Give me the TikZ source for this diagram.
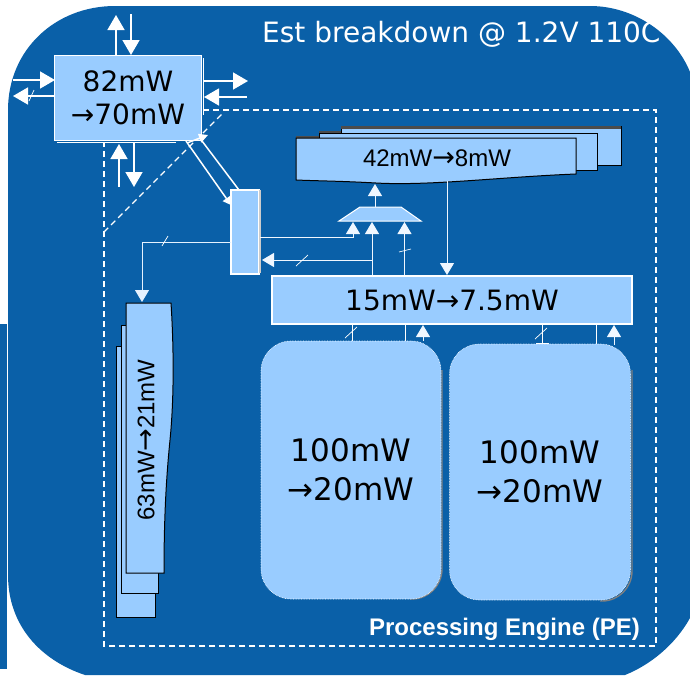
\documentclass[tikz,border=0pt]{standalone}
\usepackage{fontspec}
\setmainfont{DejaVu Sans}
\newfontfamily\lib{Liberation Sans}
\newfontfamily\dv{DejaVu Sans}
\newcommand{\wa}{{\dv\fontsize{27}{27}\selectfont →}}
\usetikzlibrary{arrows.meta}
\definecolor{bg}{HTML}{0A60A8}
\definecolor{fillb}{HTML}{99CCFF}
\tikzset{
 box/.style={fill=fillb,draw=white,line width=1.2pt,inner sep=0pt,align=center,text=black},
 wire/.style={draw=white,line width=1pt},
 bigw/.style={draw=white,line width=1.5pt,-{Triangle[length=15pt,width=17pt]}},
 smallw/.style={draw=white!85!fillb,line width=1pt,-{Triangle[length=12pt,width=14pt]}},
 tick/.style={draw=white,line width=.7pt},
 dashln/.style={draw=white,line width=1.2pt,dash pattern=on 6pt off 4pt},
 mem/.style={fill=fillb,draw=black,line width=1pt},
 blob/.style={fill=fillb,draw=white,densely dotted,line width=.6pt,rounded corners=30pt,inner sep=0pt,align=center,text=black,font=\fontsize{31}{39}\selectfont},
}
\begin{document}
\begin{tikzpicture}[x=1pt,y=-1pt]
\useasboundingbox (0,0) rectangle (690,675);
\fill[bg] (0,324) rectangle (7,669);
\fill[bg] (8,110) .. controls (8,50) and (55,6) .. (115,6) -- (590,6) .. controls (635,6) and (675,35) .. (690,72) -- (690,618)
  .. controls (675,645) and (650,665) .. (625,675) -- (85,675) .. controls (40,660) and (8,625) .. (8,575) -- cycle;
% dashed PE
\draw[dashln] (203,110) -- (656,110) -- (656,646) -- (104,646) -- (104,143);
\draw[dashln] (104,232) -- (224,112);
% memories top
\draw[mem] (341,126) rectangle (621,165);
\fill[black!70] (341,126) rectangle (621,129);
\draw[mem] (319,133) rectangle (597,170);
\fill[black!70] (319,130.5) rectangle (341,133);
\fill[black!70] (296,135.5) rectangle (319,138);
\draw[mem] (296,138) -- (576,138) -- (576,174) .. controls (500,177) and (430,186) .. (376,183) .. controls (340,181) and (320,181) .. (296,180) -- cycle;
\node[inner sep=0pt] (tm) at (437,158) {\fontsize{24}{26}\selectfont\lib 42mW\wa 8mW};
% left memories
\draw[mem] (116,346) rectangle (155,617);
\draw[mem] (121,325) rectangle (158,593);
\draw[mem] (126,303) -- (171,303) .. controls (174,350) and (174,400) .. (170,440) .. controls (166,480) and (164,520) .. (164,573) -- (126,573) -- cycle;
\node[rotate=90,inner sep=0pt] (lm) at (146,440) {\fontsize{24}{26}\selectfont\lib 63mW\wa 21mW};
% main boxes
\node[box,minimum width=147pt,minimum height=85pt,font=\fontsize{28}{33}\selectfont] (ctl) at (128,98) {82mW\\→70mW};
\draw[white,line width=1pt] (203,58) -- (203,115);
\draw[white,line width=1pt] (57,142) -- (176,142);
\node[box,minimum width=28pt,minimum height=84pt] (sw) at (245,232) {};
\draw[gray!40,line width=1.4pt] (260,190) -- (260,273);
\node[box,minimum width=360pt,minimum height=48pt,font=\fontsize{28}{30}\selectfont] (l2) at (452,300) {15mW→7.5mW};
\draw[gray,line width=1.4pt,rounded corners=30pt] (442,370) -- (442,599) -- (410,599);
\draw[gray,line width=1.4pt,rounded corners=30pt] (632,370) -- (632,601) -- (600,601);
\node[blob,minimum width=180pt,minimum height=258pt] (pe1) at (351,470) {};
\node[font=\fontsize{31}{39}\selectfont,align=center,inner sep=0pt] (pe1t) at (351,470) {100mW\\→20mW};
\node[blob,minimum width=181pt,minimum height=256pt] (pe2) at (540,472) {};
\node[font=\fontsize{31}{39}\selectfont,align=center,inner sep=0pt] (pe2t) at (540,472) {100mW\\→20mW};
% mux
\draw[fill=fillb,draw=white,line width=1pt] (339,221) -- (360,207) -- (401,207) -- (421,221) -- cycle;
% ctl arrows
\draw[bigw] (116,55) -- (116,15);
\draw[bigw] (131,14) -- (131,55);
\draw[bigw] (13,80) -- (55,80);
\draw[bigw] (55,96) -- (13,96);
\draw[bigw] (203,81) -- (248,81);
\draw[bigw] (247,97) -- (204,97);
\draw[bigw] (119,187) -- (119,144);
\draw[bigw] (134,143) -- (134,187);
\draw[tick] (29,101) -- (34,90);
\draw[white,line width=1.5pt] (202,141) -- (239,190);
\draw[white,line width=1.5pt,-{Triangle[length=8pt,width=9pt]}] (186,141) -- (231,205);
\draw[white,line width=1.5pt,-{Triangle[length=9pt,width=9pt]}] (187,143) -- (208,135);
% sw-left
\draw[smallw,draw=white!75!fillb] (231,242) -- (142,242) -- (142,302);
\draw[tick] (162,246) -- (168,236);
% mux inputs
\draw[smallw] (260,237) -- (353,237) -- (353,222);
\draw[smallw] (372,275) -- (372,222);
\draw[smallw] (404.5,275) -- (404.5,222);
\draw[tick] (399,252) -- (411,249);
\draw[smallw] (372,260) -- (262,260);
\draw[tick] (296,266) -- (308,255);
\draw[smallw] (375,207) -- (375,184);
\draw[smallw] (447,181) -- (447,275);
% L2 - PE
\draw[wire] (352,325) -- (352,341);
\draw[tick] (345,338) -- (357,327);
\draw[wire] (405,325) -- (405,341);
\draw[smallw] (423,341) -- (423,325);
\draw[wire] (542,325) -- (542,343);
\draw[tick] (535,339) -- (547,328);
\draw[wire] (596,325) -- (596,344);
\draw[smallw] (614,345) -- (614,325);
\draw[wire] (536,343) -- (549,343);
% text
\node[text=white,anchor=west,inner sep=0pt] (t) at (262,34) {\fontsize{28}{30}\selectfont Est breakdown @ 1.2V 110C};
\node[text=white,anchor=east,inner sep=0pt] (pe) at (640,629) {\fontsize{24}{26}\selectfont\lib\bfseries Processing Engine (PE)};
\end{tikzpicture}
\end{document}
